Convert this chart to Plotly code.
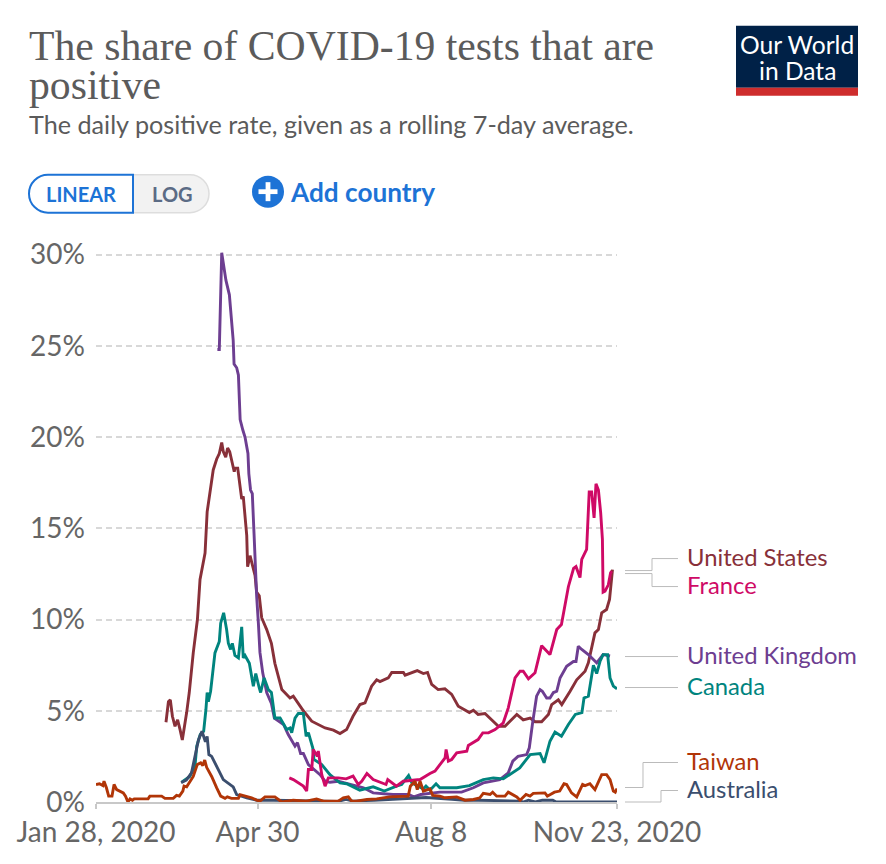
import plotly.graph_objects as go

# Days since Jan 28, 2020 and positive rate (%)
us_days = [40.3,41.7,42.8,44,45.5,47,48.4,49.7,52.2,53.7,56,58.4,59.9,60.8,62.8,64,65,67.5,69.5,71,72.4,73.3,74.7,75.8,77,79.6,80,81.6,83.9,84.8,86.8,87.3,88.7,91.6,92.5,94,95.4,98.3,101,103,107,110,111.7,113.6,119.4,124.2,131.9,136.7,140.5,144.3,148,152,154.9,158.7,161.6,163.5,168.3,170.3,177,178,185,188.5,190.9,193.3,197,200.9,204.8,208.6,211.5,215,217.3,220,224,228.8,231.7,235.5,238.4,242.3,246,250,252.8,256.6,260.5,262.4,266.2,268.2,273,275.9,276.8,281.6,283.5,287.3,289.3,291.2,294,295.7,297,297.4]
us_vals = [4.37,5.5,5.6,4.7,4.15,4.5,3.97,3.4,4.9,6,8.17,10,12.2,12.65,13.65,15.9,16.6,18.2,18.8,19.1,19.7,19.2,18.9,19.4,19.2,18.1,18.3,18.3,16.6,16.75,14.6,12.9,13.5,12.4,11.5,11.3,10.1,9.45,8.7,7.6,6.16,5.9,5.7,5.8,5,4.43,4.06,3.94,3.75,3.97,4.7,5.34,5.43,6.35,6.7,6.6,6.8,7.1,7.1,6.95,7.2,7.04,7.1,6.44,6.16,6.2,5.9,5.25,5.1,4.9,5.03,4.8,4.85,4.43,4.15,4.15,4.43,4.8,4.5,4.6,4.4,4.4,4.8,5.34,5.6,5.34,6.07,6.53,6.7,7.17,7.63,9.27,9.45,10.37,10.55,11.1,12.65,12.74]

uk_days = [69.9,71,72.4,73.7,74.8,76.8,78,79,79.5,81,82,83,84.5,85.8,87.5,88,89,90,91,91.6,92.5,93.5,94.4,96,98.3,101,102.7,108,110.7,114.6,116,117.8,119.4,122.3,129,131.9,134.7,139.5,146.3,154,159.6,171,176.5,180,183,187,198,210.5,217.3,223,232.5,237.4,240,243,248,249.5,251.4,253.7,255.7,257,259.5,261.4,263.4,265.3,267.2,271,274.9,276.4,277.7,279.7,283.5,288.3,292,296]
uk_vals = [24.8,24.8,30.1,29.4,28.6,27.8,26.4,25.3,24,23.8,23.4,20.96,20.4,20,19.1,18,17.1,16.9,14.7,13.1,11.3,9.8,8.2,7.08,6,5.4,4.6,4.25,3.7,3.06,3.25,2.66,2.66,2.05,1.5,1.14,1.08,1.14,0.96,0.78,0.5,0.41,0.41,0.41,0.28,0.41,0.54,0.54,0.78,1.05,1.23,1.6,2.24,2.5,2.6,2.97,4.34,5.8,6.16,6.07,5.7,5.7,6,6.07,6.8,7.44,7.7,7.7,8.54,8.36,8.08,7.63,8.08,8]

canada_days = [49.3,54,57,58,60,62,63.3,64,64.7,66,68.5,71,71.8,73.5,75.2,76.2,77.5,78.5,80,82,83.9,84.8,85.8,88.3,90.6,92,94,94.8,96.8,99.2,101,103,106,109.8,111.7,112.7,114.6,116.5,119.4,121,122.3,124.8,125.5,130,134.7,140.5,144.3,151.9,159.6,166,173,176,180,181.9,188.5,190,192.3,195.8,198,207.7,215,223,228.8,234.5,244,250,255.7,258,261.4,264.3,268,272,276,279.8,281,283.5,286.4,288.3,290.2,292,294.6,296,297.9,300]
canada_vals = [1.09,1.4,1.96,3.06,3.7,3.88,5.07,6,5.5,6.07,8.17,8.8,9.8,10.37,9.45,8.7,8.36,8.7,8.03,7.9,9.6,7.9,8.03,7.6,6.35,7.04,6.25,6,6.8,6.16,6,4.6,4.6,3.97,4.06,3.8,4.6,4.85,4.85,3.6,3.8,2.97,2.33,2.05,1.5,1.05,1,0.65,0.83,0.6,0.87,0.96,1.45,1.05,0.72,0.87,0.65,1,0.78,0.78,0.9,1.23,1.32,1.27,1.87,2.6,2.66,2.15,3.33,3.83,3.6,4.25,4.8,4.9,5.7,5.8,7.5,7.04,7.7,8.08,8.08,6.8,6.35,6.2]

france_days = [111.3,113.6,119.4,121.3,122.3,124.2,125.1,127.4,128,130,131.9,133.8,139.5,144,148,151,153,156,159.6,167,168,173,176.9,186.6,192.3,195.2,201,201.6,202.9,204.8,207.7,213.5,214.4,220,222.7,226,229.8,234.5,237.4,241.3,244.2,246,249,252.8,256.6,261.4,265.3,268,272,275,276.4,278.7,279.7,282.5,284,285.4,286.8,287.9,289.3,290.6,291.6,292,293.1,295,296.3,297]
france_vals = [1.32,1.23,0.87,0.6,1.78,1.78,2.88,2.5,2.8,1.5,0.87,1.32,1.32,1.27,1.42,0.96,1.14,1.56,1.23,0.96,1.23,0.87,1.14,1.23,1.56,1.69,2.42,2.88,2.24,2.33,2.69,2.78,3.1,3.42,3.79,3.79,3.97,4.34,5.16,6.8,7.17,7.17,6.75,7.08,8.57,8.08,9.45,9.73,11.8,12.8,12.9,12.3,13.3,13.84,17,17,15.57,17.44,17.1,15.85,14.4,11.5,11.55,11.9,12.56,12.65]

australia_days = [49,52,55,57,59,61,63,64,65,66.6,70.4,73.3,79,81,86.8,92.5,102,120,131,139,144,148,160,180,190,205,212,220,244,246,249,253,257,263,265,300]
australia_vals = [1.05,1.2,1.6,2.6,3.4,3.88,3.3,3.6,2.6,2.5,1.8,1.23,0.83,0.41,0.23,0.1,0.1,0.08,0.05,0.03,0.14,0.05,0.1,0.2,0.25,0.15,0.1,0.1,0.05,0,0.1,0,0.1,0.1,0,0]

taiwan_days = [0,2,4,4.6,6,7.3,9.2,10.4,11.9,15.7,17,18.4,19.6,21,22,25,30,31,37.8,39.7,44.5,46.4,48,50,50.7,52.2,56,58.3,60.3,61.5,62.6,63.7,66.6,69.5,71.8,74.3,75.6,78,82,83,86.8,89.6,92.5,94.4,97.3,103,107,111.7,113.6,121,127,131,139.5,142.4,145.3,147.2,150,156,161.6,169,179.8,181,183.7,185,186.6,188.5,192.3,193.9,198,201,207.7,212.5,217.3,221,223,226.9,228.4,230.7,235.5,237.4,242.3,244.2,247.6,249.9,251.8,258.5,259.9,264,267,269.5,271,273.8,276.8,280.2,281.6,284.4,287.3,291.2,294,296,297.9,299,300]
taiwan_vals = [0.96,1,0.9,1.14,0.78,0.32,0.32,0.96,0.68,0.5,0.32,0,0.17,0.1,0.17,0.17,0.17,0.32,0.32,0.2,0.2,0.36,0.32,0.6,0.87,0.83,1.4,2.05,2.15,2,2.3,1.9,1.4,0.78,0.32,0.2,0.28,0.2,0.2,0.4,0.32,0.23,0.1,0.05,0.28,0.28,0,0.05,0.1,0.05,0.17,0.05,0.05,0.23,0.28,0.05,0.05,0.14,0.17,0.28,0.32,0.87,1.14,0.68,1.14,0.6,0.72,0.36,0.32,0.23,0.28,0.1,0.14,0.23,0.47,0.41,0.54,0.32,0.32,0.54,0.28,0.1,0.41,0.32,0.47,0.5,0.32,0.54,0.6,1,0.96,0.5,0.28,0.96,0.9,1,0.68,1.5,1.5,1.23,0.6,0.54,0.74]

x_tick_days = [0, 93, 193, 300]
x_tick_labels = ["Jan 28, 2020", "Apr 30", "Aug 8", "Nov 23, 2020"]
y_tick_vals = [0, 5, 10, 15, 20, 25, 30]
y_tick_labels = ["0%", "5%", "10%", "15%", "20%", "25%", "30%"]

series = [
    ("United States", us_days, us_vals, "#883039"),
    ("United Kingdom", uk_days, uk_vals, "#6D3E91"),
    ("Canada", canada_days, canada_vals, "#00847E"),
    ("France", france_days, france_vals, "#CF0A66"),
    ("Australia", australia_days, australia_vals, "#3B4E6E"),
    ("Taiwan", taiwan_days, taiwan_vals, "#B13507"),
]

# The page body adds an 8px margin, so the figure is laid out 8px in from the window corner.
PAGE = 8
W, H = 870, 848
Y_TOP = 30.2
L, R, B = 96, 617, 802.5
T = B - Y_TOP * 18.25
px = lambda x: (x - L) / (R - L)
py = lambda y: (B - y) / (B - T)

fig = go.Figure()
for name, d, v, c in series:
    fig.add_trace(go.Scatter(x=d, y=v, mode="lines", name=name, cliponaxis=False,
                             line=dict(color=c, width=2.9), showlegend=False))

def text(x, y, s, size, color, anchor="left", family="Lato"):
    fig.add_annotation(xref="paper", yref="paper", x=px(x), y=py(y), text=s, showarrow=False,
                       xanchor=anchor, yanchor="middle", align=anchor,
                       font=dict(family=family, size=size, color=color), borderpad=0)

def rect(x0, y0, x1, y1, fill, line=None, w=0):
    fig.add_shape(type="rect", xref="paper", yref="paper", x0=px(x0), x1=px(x1), y0=py(y0), y1=py(y1),
                  fillcolor=fill, line=dict(color=line or fill, width=w))

def polyline(points, color="#bbbbbb", w=1):
    path = "M " + " L ".join(f"{px(a):.5f} {py(b):.5f}" for a, b in points)
    fig.add_shape(type="path", xref="paper", yref="paper", path=path, line=dict(color=color, width=w))

def pill(x0, y0, x1, y1, r, left, fill, line, w):
    k = 0.55 * r
    c = lambda a, b: f"{px(a):.5f} {py(b):.5f}"
    if left:
        p = (f"M {c(x1,y0)} L {c(x0+r,y0)} C {c(x0+r-k,y0)} {c(x0,y0+r-k)} {c(x0,y0+r)} "
             f"L {c(x0,y1-r)} C {c(x0,y1-r+k)} {c(x0+r-k,y1)} {c(x0+r,y1)} L {c(x1,y1)} Z")
    else:
        p = (f"M {c(x0,y0)} L {c(x1-r,y0)} C {c(x1-r+k,y0)} {c(x1,y0+r-k)} {c(x1,y0+r)} "
             f"L {c(x1,y1-r)} C {c(x1,y1-r+k)} {c(x1-r+k,y1)} {c(x1-r,y1)} L {c(x0,y1)} Z")
    fig.add_shape(type="path", xref="paper", yref="paper", path=p, fillcolor=fill, line=dict(color=line, width=w))

# Header
text(27.5, 46, "The share of COVID-19 tests that are", 41.7, "#5b5b5b", family="Liberation Serif")
text(27.5, 85, "positive", 41.7, "#5b5b5b", family="Liberation Serif")
text(27.5, 124, "The daily positive rate, given as a rolling 7-day average.", 25.2, "#5b5b5b")

# Logo
rect(736, 26, 858, 88, "#002147")
rect(736, 88, 858, 96, "#CE2D2D")
text(797, 44.5, "Our World", 24.6, "#ffffff", "center")
text(797, 70.5, "in Data", 24.6, "#ffffff", "center")

# Controls
pill(133, 175, 209, 213, 19, False, "#f2f2f2", "#dddddd", 1.5)
pill(29, 175, 133, 213, 19, True, "#ffffff", "#1D73D6", 2)
text(81, 194, "<b>LINEAR</b>", 20, "#1D73D6", "center")
text(172, 194, "<b>LOG</b>", 20, "#5b6b85", "center")
fig.add_shape(type="circle", xref="paper", yref="paper", x0=px(252), x1=px(284), y0=py(176), y1=py(208),
              fillcolor="#1D73D6", line=dict(color="#1D73D6", width=0))
rect(258.5, 189.6, 277.5, 194.4, "#ffffff")
rect(265.6, 182.5, 270.4, 201.5, "#ffffff")
text(289, 192.5, "<b>Add country</b>", 26.2, "#1D73D6")

# Leader lines
polyline([(625, 571), (652, 571), (652, 559), (678, 559)])
polyline([(625, 574), (652, 574), (652, 587), (678, 587)])
polyline([(625, 657), (678, 657)])
polyline([(625, 688), (678, 688)])
polyline([(625, 788), (643, 788), (643, 763), (678, 763)])
polyline([(625, 802.5), (661, 802.5), (661, 791), (678, 791)])

# End labels
text(686, 557.5, "United States", 23.8, "#883039")
text(686, 585.5, "France", 23.8, "#CF0A66")
text(686, 655.5, "United Kingdom", 23.8, "#6D3E91")
text(686, 686.5, "Canada", 23.8, "#00847E")
text(686, 761.5, "Taiwan", 23.8, "#B13507")
text(686, 789.5, "Australia", 23.8, "#3B4E6E")

fig.update_layout(
    width=W, height=H, autosize=False, paper_bgcolor="#ffffff", plot_bgcolor="#ffffff",
    margin=dict(l=L - PAGE, r=W - (R - PAGE), t=T - PAGE, b=H - (B - PAGE), pad=0, autoexpand=False),
    showlegend=False, hovermode=False,
)
fig.update_xaxes(range=[0, 300], tickmode="array", tickvals=x_tick_days, ticktext=x_tick_labels,
                 showgrid=False, zeroline=False, showline=True, linecolor="#c8c8c8", linewidth=1.5,
                 ticks="outside", ticklen=5, tickcolor="#c8c8c8", tickwidth=1.5,
                 tickfont=dict(family="Lato", size=28, color="#666666"))
fig.update_yaxes(range=[0, Y_TOP], tickmode="array", tickvals=y_tick_vals, ticktext=y_tick_labels,
                 showgrid=True, gridcolor="#d8d8d8", gridwidth=1.5, griddash="6px,4px", zeroline=False,
                 showline=False, ticks="", ticklabelstandoff=10,
                 tickfont=dict(family="Lato", size=28, color="#666666"))

fig.write_html("out.html")
